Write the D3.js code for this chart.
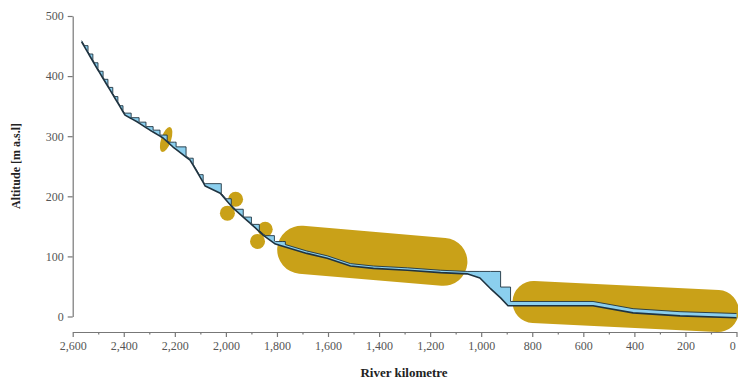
<!DOCTYPE html>
<html>
<head>
<meta charset="utf-8">
<script src="https://cdn.jsdelivr.net/npm/d3@7"></script>
<style>
  html, body { margin: 0; padding: 0; background: #fff; }
  svg { display: block; }
  .tick text { font-family: "Liberation Serif", "Times New Roman", serif; font-size: 12px; fill: #555; }
  .axis path, .axis line { stroke: #777; stroke-width: 1.2; }
</style>
</head>
<body>
<svg id="chart" width="738" height="379"></svg>
<script>
// ---- data ----
const bedKm  = [2565, 2505, 2454, 2395, 2348, 2297, 2246, 2207, 2140, 2101, 2081, 2022, 1971, 1904, 1853, 1808, 1777, 1683, 1603, 1512, 1422, 1289, 1159, 1055, 1005, 965, 924, 895, 562, 405, 221, 0];
const bedAlt = [457, 413, 377, 335, 324, 310, 297, 282, 260, 232, 217, 205, 180, 155, 135, 121, 117, 105, 97, 84, 80, 77, 73, 71, 64, 47, 31, 18, 18, 6, 1, -2];
const waterDepth = [2, 2, 2, 2, 2, 2, 2, 2, 2, 2, 2, 2, 2, 2, 2, 4, 4, 4, 4, 4, 4, 4, 4, 4, 4, 3, 3, 7, 7, 7, 7, 7];

const damKm   = [2540, 2521, 2501, 2481, 2462, 2443, 2423, 2403, 2371, 2340, 2313, 2285, 2258, 2230, 2195, 2156, 2128, 2089, 2018, 1979, 1932, 1900, 1869, 1810, 1767, 924, 885];
const damHead = [10, 10, 10, 10, 10, 10, 9, 8, 7, 7, 7, 7, 8, 9, 10, 15, 10, 11, 16, 10, 11, 10, 10, 9, 5, 41, 24];

const capsuleKmFrom  = [1705, 795];
const capsuleAltFrom = [111, 24];
const capsuleKmTo    = [1148, 73];
const capsuleAltTo   = [91, 9];
const capsuleWidth   = [48, 42];

const circleKm  = [1962, 1994, 1846, 1876];
const circleAlt = [195, 172, 145, 125];

const ellipseKm  = [2234];
const ellipseAlt = [294.5];

const xTicks = [2600, 2400, 2200, 2000, 1800, 1600, 1400, 1200, 1000, 800, 600, 400, 200, 0];
const xMinorTicks = [2500, 2300, 2100, 1900, 1700, 1500, 1300, 1100, 900, 700, 500, 300, 100];
const yTicks = [0, 100, 200, 300, 400, 500];

// ---- scales ----
const svg = d3.select("#chart");
const x = d3.scaleLinear().domain([2600, 0]).range([72.7, 736.5]);
const y = d3.scaleLinear().domain([0, 500]).range([316.5, 16]);

const bedAt = d3.scaleLinear().domain(bedKm).range(bedAlt);
const depthAt = d3.scaleLinear().domain(bedKm).range(waterDepth);
const freeAt = km => bedAt(km) + depthAt(km);

const GOLD = "#c9a118", BLUE = "#8bcfee", DARK = "#1f3340";

// ---- reservoirs ----
const reservoirs = damKm.map((dk, i) => {
  const level = freeAt(dk) + damHead[i];
  const ups = bedKm.filter(k => k > dk).sort((a, b) => a - b);
  let prev = dk, prevVal = freeAt(dk), start = ups.length ? ups[ups.length - 1] : dk;
  for (const k of ups) {
    const v = freeAt(k);
    if (v >= level) { start = prev + (level - prevVal) / (v - prevVal) * (k - prev); break; }
    prev = k; prevVal = v;
  }
  return { dam: dk, level, start };
});

function surfAt(km) {
  let v = freeAt(km);
  for (const r of reservoirs) if (km > r.dam && km < r.start) v = Math.max(v, r.level);
  return v;
}

const brk = Array.from(new Set([...bedKm, ...damKm, ...reservoirs.map(r => r.start)])).sort((a, b) => b - a);
const eps = 1e-6;
const surfPts = [];
brk.forEach(b => {
  const up = surfAt(b + eps), dn = surfAt(b - eps);
  surfPts.push([b, up]);
  if (Math.abs(up - dn) > 1e-4) surfPts.push([b, dn]);
});
const bedPts = brk.map(b => [b, bedAt(b)]);

// ---- gold annotations ----
const gold = svg.append("g");
capsuleKmFrom.forEach((k, i) => {
  gold.append("line")
    .attr("x1", x(k)).attr("y1", y(capsuleAltFrom[i]))
    .attr("x2", x(capsuleKmTo[i])).attr("y2", y(capsuleAltTo[i]))
    .attr("stroke", GOLD).attr("stroke-width", capsuleWidth[i]).attr("stroke-linecap", "round");
});
circleKm.forEach((k, i) => {
  gold.append("circle").attr("cx", x(k)).attr("cy", y(circleAlt[i])).attr("r", 7.5).attr("fill", GOLD);
});
ellipseKm.forEach((k, i) => {
  gold.append("ellipse")
    .attr("transform", `translate(${x(k)},${y(ellipseAlt[i])}) rotate(18)`)
    .attr("rx", 5).attr("ry", 13).attr("fill", GOLD);
});

// ---- water ----
const line = d3.line().x(d => x(d[0])).y(d => y(d[1]));
svg.append("path")
  .attr("d", line(surfPts.concat(bedPts.slice().reverse())) + "Z")
  .attr("fill", BLUE).attr("stroke", "none");
svg.append("path").attr("d", line(surfPts))
  .attr("fill", "none").attr("stroke", DARK).attr("stroke-width", 0.9).attr("stroke-linejoin", "round");
svg.append("path").attr("d", line(bedPts))
  .attr("fill", "none").attr("stroke", DARK).attr("stroke-width", 1.6).attr("stroke-linejoin", "round");

// ---- axes ----
svg.append("g").attr("class", "axis")
  .attr("transform", `translate(${x(2600)},0)`)
  .call(d3.axisLeft(y).tickValues(yTicks).tickSize(5).tickPadding(4).tickSizeOuter(0));

const xAxisY = 332;
svg.append("g").attr("class", "axis")
  .attr("transform", `translate(0,${xAxisY})`)
  .call(d3.axisBottom(x).tickValues(xMinorTicks).tickSize(2.5).tickFormat("").tickSizeOuter(0));
const xAxis = svg.append("g").attr("class", "axis")
  .attr("transform", `translate(0,${xAxisY})`)
  .call(d3.axisBottom(x).tickValues(xTicks).tickSize(5).tickPadding(4).tickSizeOuter(0).tickFormat(d3.format(",")));
// keep the last label ("0") inside the picture
xAxis.selectAll(".tick text").filter(d => d === 0).attr("text-anchor", "end").attr("dx", "-0.1em");

svg.append("text")
  .attr("transform", "translate(20,166) rotate(-90)")
  .attr("text-anchor", "middle")
  .style("font-family", "'Liberation Serif', 'Times New Roman', serif")
  .style("font-weight", "bold").style("font-size", "12px").style("fill", "#222")
  .text("Altitude [m a.s.l]");

svg.append("text")
  .attr("x", 404).attr("y", 377)
  .attr("text-anchor", "middle")
  .style("font-family", "'Liberation Serif', 'Times New Roman', serif")
  .style("font-weight", "bold").style("font-size", "13px").style("fill", "#222")
  .text("River kilometre");
</script>
</body>
</html>
